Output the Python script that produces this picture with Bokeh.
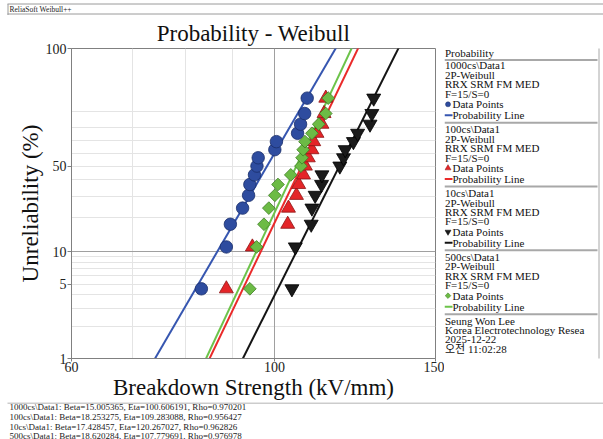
import numpy as np
from bokeh.plotting import figure
from bokeh.models import Range1d, FixedTicker, Grid
from bokeh.layouts import column, row
from bokeh.embed import file_html
from bokeh.resources import INLINE
from bokeh.core.properties import value

# ---------------- data ----------------
unreliability_pct = [4.55, 11.04, 17.53, 24.03, 30.52, 37.01, 43.51, 50.00,
                     56.49, 62.99, 69.48, 75.97, 82.47, 88.96, 95.45]
strength_1000cs = [83.2, 88.6, 89.5, 92.3, 93.7, 94.0, 95.1, 95.7, 96.0,
                   100.1, 100.5, 106.0, 106.8, 107.9, 108.6]
strength_100cs = [88.6, 94.6, 103.4, 103.6, 105.7, 106.3, 107.6, 108.1, 108.9,
                  109.9, 110.4, 111.3, 112.7, 113.3, 113.8]
strength_10cs = [104.5, 105.4, 109.7, 109.9, 110.8, 112.6, 112.7, 117.9, 119.0,
                 119.5, 122.0, 123.3, 127.2, 127.8, 128.4]
strength_500cs = [94.0, 95.6, 97.4, 98.6, 100.1, 100.9, 104.2, 106.9, 107.2,
                  107.5, 108.0, 109.9, 111.8, 113.8, 114.5]

series_names = ["1000cs\\Data1", "100cs\\Data1", "10cs\\Data1", "500cs\\Data1"]
beta = [15.005365, 18.253275, 17.428457, 18.620284]
eta = [100.606191, 109.283088, 120.267027, 107.779691]
rho = [0.970201, 0.956427, 0.962826, 0.976978]

x_tick_values = [60, 100, 150]
x_tick_labels = ["60", "100", "150"]
x_minor_grid = [70, 80, 90]
x_major_grid = [100]
y_tick_pct = [1, 5, 10, 50, 99.99]
y_tick_labels = ["1", "5", "10", "50", "100"]
y_minor_grid_pct = [2, 3, 4, 5, 6, 7, 8, 9, 20, 30, 40, 50, 60, 70, 80, 90]
y_major_grid_pct = [10]

legend_sub = ["2P-Weibull", "RRX SRM FM MED", "F=15/S=0"]
author_lines = ["Seung Won Lee", "Korea Electrotechnology Resea", "2025-12-22", "오전 11:02:28"]

FONT = "Liberation Serif"
series_x = [strength_1000cs, strength_100cs, strength_10cs, strength_500cs]
styles = [
    dict(marker="circle", size=12.5, angle=0.0, fill="#2e4c9f", edge="#1b2f6b", line="#3656b0", lsize=5),
    dict(marker="triangle", size=14, angle=0.0, fill="#e42528", edge="#8e1414", line="#ea2a2a", lsize=6),
    dict(marker="inverted_triangle", size=14, angle=0.0, fill="#1a1a1a", edge="#000000", line="#141414", lsize=6),
    dict(marker="square", size=9, angle=np.pi / 4, fill="#6cbb45", edge="#3e7d24", line="#6cc34a", lsize=4),
]


def wb(pct):
    p = np.asarray(pct, dtype=float) / 100.0
    return np.log(-np.log(1.0 - p))


def rl(vals):
    return [float(round(v, 6)) for v in vals]


y_tick_vals = rl(wb(y_tick_pct))
y_lo, y_hi = y_tick_vals[0], y_tick_vals[-1]

MB_TOP, MB_BOTTOM = 33, 43

# ---------------- main plot ----------------
p = figure(width=444, height=387, x_axis_type="log",
           x_range=Range1d(60, 150), y_range=Range1d(y_lo, y_hi),
           output_backend="svg", toolbar_location=None,
           title="Probability - Weibull",
           min_border_left=71, min_border_right=9,
           min_border_top=MB_TOP, min_border_bottom=MB_BOTTOM)
p.background_fill_color = "white"
p.border_fill_color = "white"
p.outline_line_color = "#808080"
p.title.text_font = FONT
p.title.text_font_size = "23px"
p.title.text_font_style = "normal"
p.title.text_color = "#111111"
p.title.align = "center"
p.title.standoff = 5

p.xaxis.ticker = FixedTicker(ticks=x_tick_values, minor_ticks=[])
p.xaxis.major_label_overrides = dict(zip(x_tick_values, x_tick_labels))
p.yaxis.ticker = FixedTicker(ticks=y_tick_vals, minor_ticks=[])
p.yaxis.major_label_overrides = dict(zip(y_tick_vals, y_tick_labels))
p.xaxis.axis_label = "Breakdown Strength (kV/mm)"
p.yaxis.axis_label = "Unreliability (%)"
for ax in (p.xaxis, p.yaxis):
    ax.axis_label_text_font = FONT
    ax.axis_label_text_font_size = "23px"
    ax.axis_label_text_font_style = "normal"
    ax.axis_label_text_color = "#111111"
    ax.axis_label_standoff = 0
    ax.major_label_text_font = FONT
    ax.major_label_text_font_size = "14px"
    ax.major_label_text_color = "#222222"
    ax.major_label_standoff = 1
    ax.major_tick_in = 0
    ax.major_tick_out = 4
    ax.axis_line_color = "#808080"
    ax.major_tick_line_color = "#808080"
p.xaxis.major_tick_out = 3
p.xaxis.major_label_standoff = 0

p.xgrid.ticker = FixedTicker(ticks=x_minor_grid, minor_ticks=[])
p.xgrid.grid_line_color = "#e4e4e4"
p.ygrid.ticker = FixedTicker(ticks=rl(wb(y_minor_grid_pct)), minor_ticks=[])
p.ygrid.grid_line_color = "#e4e4e4"
p.add_layout(Grid(dimension=0, ticker=FixedTicker(ticks=x_major_grid, minor_ticks=[]),
                  grid_line_color="#a0a0a0"))
p.add_layout(Grid(dimension=1, ticker=FixedTicker(ticks=rl(wb(y_major_grid_pct)), minor_ticks=[]),
                  grid_line_color="#a0a0a0"))

y_pts = wb(unreliability_pct)
w_span = np.array([y_lo - 0.3, y_hi + 0.3])
for b, e, st in zip(beta, eta, styles):
    p.line(x=e * np.exp(w_span / b), y=w_span, line_color=st["line"], line_width=2)
for xs, st in zip(series_x, styles):
    p.scatter(x=xs, y=y_pts, marker=st["marker"], size=st["size"], angle=st["angle"],
              fill_color=st["fill"], line_color=st["edge"], line_width=0.8)


def blank(w, h, xr, yr, **kw):
    f = figure(width=w, height=h, x_range=Range1d(*xr), y_range=Range1d(*yr),
               x_axis_type=None, y_axis_type=None, min_border=0, title=None,
               toolbar_location=None, output_backend="svg", **kw)
    f.outline_line_color = None
    f.background_fill_color = "white"
    f.border_fill_color = "white"
    return f


# ---------------- header (page y 0..15) ----------------
hdr = blank(603, 15, (0, 603), (15, 0))
hdr.segment(x0=[7], y0=[3.5], x1=[603], y1=[3.5], line_color="#9a9a9a", line_width=1)
hdr.segment(x0=[7], y0=[13.5], x1=[603], y1=[13.5], line_color="#9a9a9a", line_width=1)
hdr.segment(x0=[7.5], y0=[3.5], x1=[7.5], y1=[15], line_color="#9a9a9a", line_width=1)
hdr.text(x=[9], y=[8.6], text=["ReliaSoft Weibull++"], text_font=value(FONT),
         text_font_size="7.5px", text_baseline="middle", text_color="#222222")

# ---------------- legend panel (page coords; frame aligned with plot frame) ----------------
leg = blank(159, 387, (444, 603), (402 - MB_BOTTOM, 15 + MB_TOP),
            min_border_top=MB_TOP, min_border_bottom=MB_BOTTOM,
            min_border_left=0, min_border_right=0)
tx, ty, tt = [444.5], [53], ["Probability"]
seps = [59.5]
for i, (name, st) in enumerate(zip(series_names, styles)):
    b0 = 65 + 64 * i
    for k, t in enumerate([name] + legend_sub):
        tx.append(444.5)
        ty.append(b0 + 9.5 * k)
        tt.append(t)
    tx += [452, 452]
    ty += [b0 + 39, b0 + 50]
    tt += ["Data Points", "Probability Line"]
    leg.scatter(x=[447.5], y=[b0 + 39], marker=st["marker"], size=st["lsize"], angle=st["angle"],
                fill_color=st["fill"], line_color=st["edge"], line_width=0.5)
    leg.segment(x0=[444], y0=[b0 + 50], x1=[452], y1=[b0 + 50], line_color=st["line"], line_width=2)
    seps.append(b0 + 57.5)
a0 = 65 + 64 * 4
for k, t in enumerate(author_lines):
    tx.append(444.5)
    ty.append(a0 + 9.5 * k)
    tt.append(t)
leg.segment(x0=[444] * len(seps), y0=seps, x1=[597] * len(seps), y1=seps,
            line_color="#a8a8a8", line_width=2)
leg.segment(x0=[598.5], y0=[45], x1=[598.5], y1=[402], line_color="#a8a8a8", line_width=1)
leg.text(x=tx, y=ty, text=tt, text_font=value(FONT + ", Noto Sans CJK KR"),
         text_font_size="11px", text_baseline="middle", text_color="#111111")

# ---------------- footer (page y 402..439) ----------------
ftr = blank(603, 37, (0, 603), (37, 0))
ftr.segment(x0=[7], y0=[0.5], x1=[603], y1=[0.5], line_color="#9a9a9a", line_width=1)
f_lines = [f"{n}: Beta={b:.6f}, Eta={e:.6f}, Rho={r:.6f}"
           for n, b, e, r in zip(series_names, beta, eta, rho)]
ftr.text(x=[9] * 4, y=[4.8 + 9.6 * k for k in range(4)], text=f_lines,
         text_font=value(FONT), text_font_size="9px", text_baseline="middle",
         text_color="#222222")

layout = column(hdr, row(p, leg), ftr)
open("out.html", "w").write(file_html(layout, INLINE))
